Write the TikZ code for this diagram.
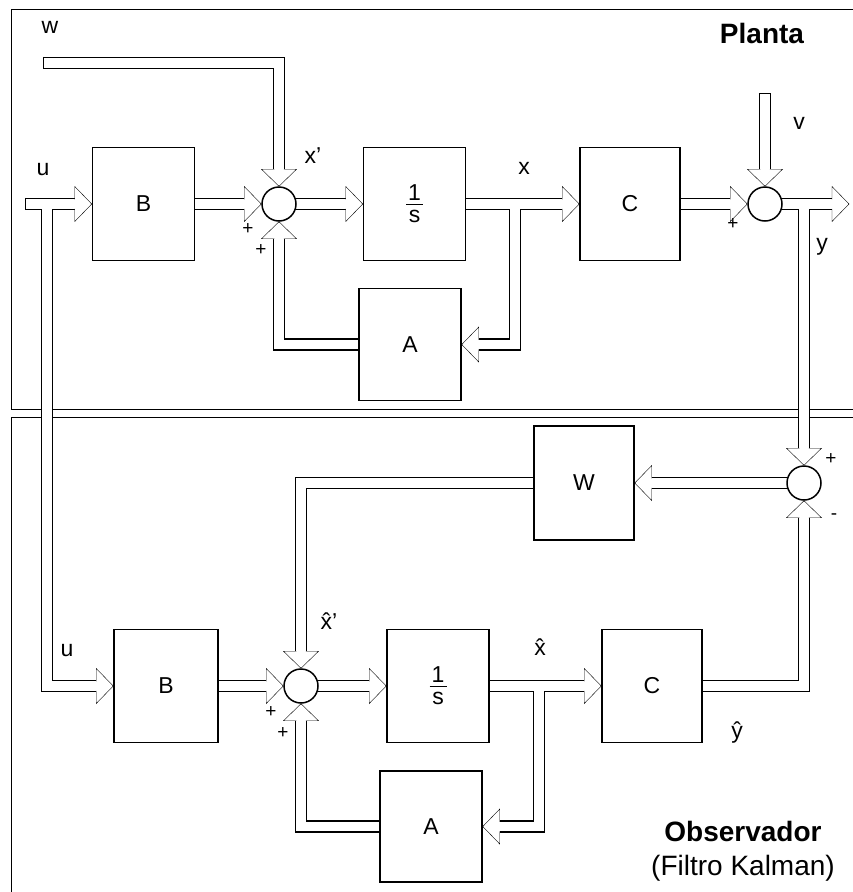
\documentclass[tikz,border=0pt]{standalone}
\usepackage{fontspec}
\setmainfont{Liberation Sans}
\usetikzlibrary{backgrounds}

% hollow arrow head, tip at #1, pointing at angle #2
\newcommand\fathead[2]{%
  \fill[white,shift={(#1)},rotate=#2] (0,0) -- (-17,17.5) -- (-17,-17.5) -- cycle;
  \draw[shift={(#1)},rotate=#2] (-17,4.75) -- (-17,17.5) -- (0,0) -- (-17,-17.5) -- (-17,-4.75);
}
% 1/s
\newcommand\integ{\vbox{\hbox to 17pt{\hfil 1\hfil}\kern3pt\hrule height 1.3pt\kern5pt
  \hbox to 17pt{\hfil s\hfil}}}

\begin{document}
\begin{tikzpicture}[x=1pt,y=-1pt,line width=1.5pt,
  block/.style={draw,minimum width=102pt,minimum height=113pt,inner sep=0pt,font=\fontsize{23}{26}\selectfont},
  sum/.style={draw,fill=white,circle,minimum size=34pt,inner sep=0pt},
  lbl/.style={inner sep=0pt,font=\fontsize{23}{26}\selectfont},
  sgn/.style={inner sep=0pt,font=\fontsize{19}{22}\selectfont},
  title/.style={inner sep=0pt,font=\fontsize{28}{32}\selectfont\bfseries},
  sig/.style={double=white,double distance=9.5pt,line width=1.5pt}]
  \useasboundingbox (0,0) rectangle (853,892);

  % planta
  \node[block] (B1) at (143.5,204) {B};
  \node[sum] (S1) at (279,204) {};
  \node[block] (I1) at (414.5,204) {\integ};
  \node[block,minimum height=112pt] (A1) at (410,344.5) {A};
  \node[block,minimum width=100pt] (C1) at (630,204) {C};
  \node[sum] (S2) at (765,204) {};
  \coordinate (uin) at (25,204);
  \coordinate (uj) at (47,204);
  \coordinate (win) at (43,63);
  \coordinate (vin) at (765,93);
  \coordinate (xj) at (515,204);
  \coordinate (yj) at (804,204);
  \coordinate (yout) at (849,204);

  % observador
  \node[block,minimum width=100pt,minimum height=114pt] (W) at (584,483) {W};
  \node[sum] (S3) at (804,483) {};
  \node[block,minimum width=104pt] (B2) at (166,686) {B};
  \node[sum] (S4) at (301,686) {};
  \node[block] (I2) at (438,686) {\integ};
  \node[block,minimum width=100pt] (C2) at (652,686) {C};
  \node[block,minimum height=111pt] (A2) at (431,826.5) {A};
  \coordinate (xhj) at (539,686);

  % labels
  \node[lbl] (lw) at (50,27) {w};
  \node[lbl] (lu1) at (43,170) {u};
  \node[lbl] (lxp) at (313,156) {x'};
  \node[sgn] (lp1) at (248,229) {+};
  \node[sgn] (lp2) at (261,250) {+};
  \node[lbl] (lx) at (524,168) {x};
  \node[sgn] (lp3) at (733,224) {+};
  \node[lbl] (lv) at (799,123) {v};
  \node[lbl] (ly) at (822,247) {y};
  \node[title] (lpl) at (762,33) {Planta};
  \node[lbl] (lu2) at (67,651) {u};
  \node[lbl] (lxhp) at (329,621) {\^x'};
  \node[sgn] (lp4) at (271,712) {+};
  \node[sgn] (lp5) at (283,733) {+};
  \node[lbl] (lxh) at (540,647) {\^x};
  \node[lbl] (lyh) at (737,733) {\^y};
  \node[sgn] (lp6) at (831,459) {+};
  \node[sgn] (lm) at (834,517) {-};
  \node[title] (lobs) at (743,831) {Observador};
  \node[lbl,font=\fontsize{28}{32}\selectfont] (lkal) at (743,868) {(Filtro Kalman)};

  \begin{pgfonlayer}{background}
    \begin{scope}
      \clip (0,0) rectangle (853,892);
      \draw (11,9) rectangle (900,409);
      \draw (11,417) rectangle (900,940);
    \end{scope}
    \draw[sig] (uin) -- ([xshift=-17pt]B1.west)
      (uj) |- ([xshift=-17pt]B2.west)
      (B1.east) -- ([xshift=-17pt]S1.west)
      (win) -| ([yshift=17pt]S1.north)
      (S1.center) -- ([xshift=-17pt]I1.west)
      (I1.east) -- ([xshift=-17pt]C1.west)
      (xj) |- ([xshift=17pt]A1.east)
      (A1.west) -| ([yshift=-17pt]S1.south)
      (C1.east) -- ([xshift=-17pt]S2.west)
      (vin) -- ([yshift=17pt]S2.north)
      (S2.center) -- ([xshift=-17pt]yout)
      (yj) -- ([yshift=17pt]S3.north)
      (S3.center) -- ([xshift=17pt]W.east)
      (W.west) -| ([yshift=17pt]S4.north)
      (B2.east) -- ([xshift=-17pt]S4.west)
      (S4.center) -- ([xshift=-17pt]I2.west)
      (I2.east) -- ([xshift=-17pt]C2.west)
      (xhj) |- ([xshift=17pt]A2.east)
      (A2.west) -| ([yshift=-17pt]S4.south)
      (C2.east) -| ([yshift=-17pt]S3.south);
    % closed free ends
    \draw ([yshift=6.25pt]uin) -- ([yshift=-6.25pt]uin);
    \draw ([yshift=6.25pt]win) -- ([yshift=-6.25pt]win);
    \draw ([xshift=-6.25pt]vin) -- ([xshift=6.25pt]vin);
    \foreach \p/\a in {B1.west/0,B2.west/0,S1.west/0,S1.north/-90,I1.west/0,C1.west/0,
                       A1.east/180,S1.south/90,S2.west/0,S2.north/-90,yout/0,S3.north/-90,
                       W.east/180,S4.north/-90,S4.west/0,I2.west/0,C2.west/0,A2.east/180,
                       S4.south/90,S3.south/90}{
      \fathead{\p}{\a}
    }
  \end{pgfonlayer}
\end{tikzpicture}
\end{document}
